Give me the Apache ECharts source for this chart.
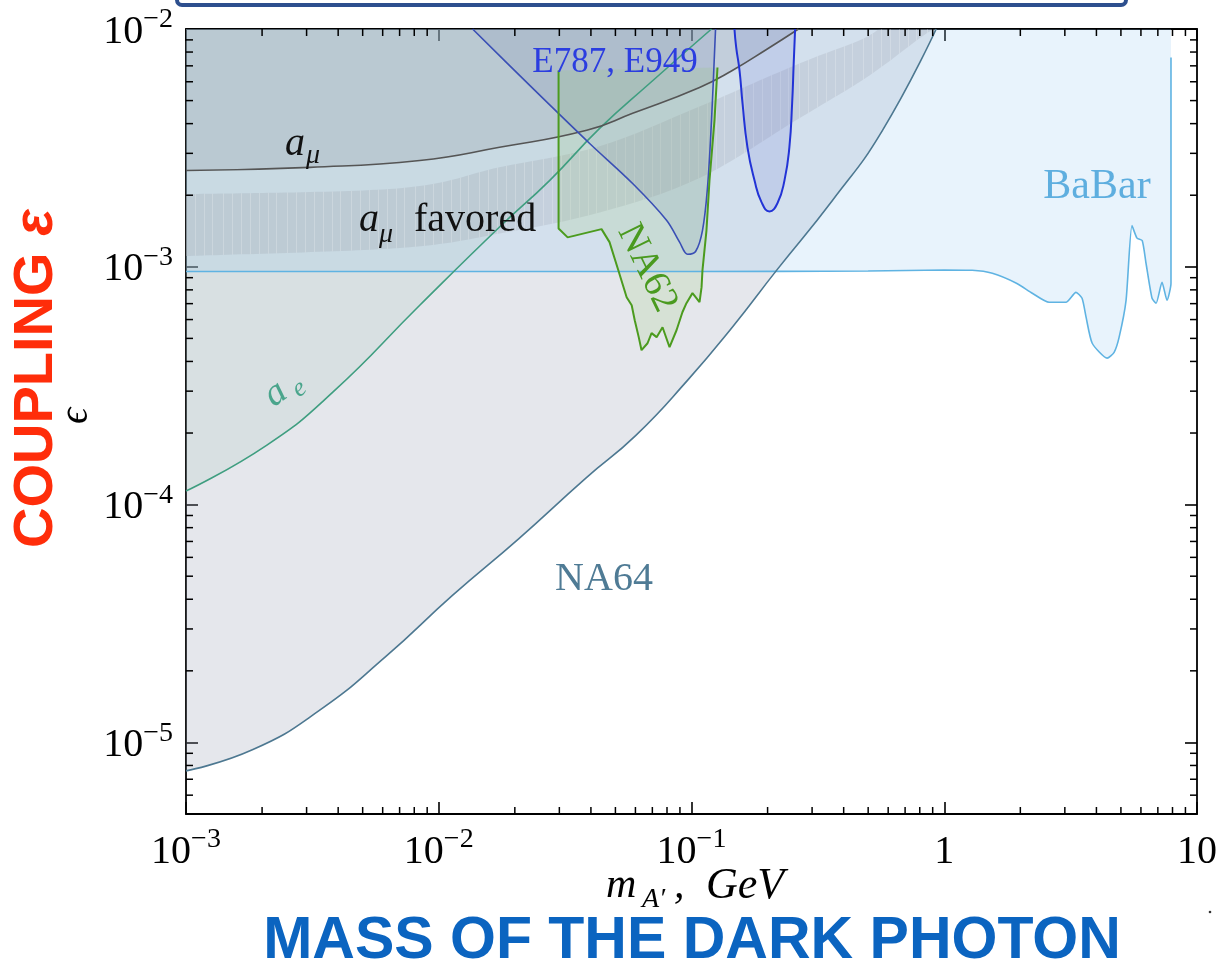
<!DOCTYPE html>
<html>
<head>
<meta charset="utf-8">
<title>Dark photon: coupling vs mass</title>
<script src="https://cdn.jsdelivr.net/npm/echarts@6/dist/echarts.min.js"></script>
<style>
  html, body { margin: 0; padding: 0; background: #ffffff; }
  #chart { width: 1220px; height: 972px; }
</style>
</head>
<body>
<div id="chart"></div>
<script>
// Axis ranges: dark photon mass m_A' (GeV) and kinetic mixing coupling epsilon
const X_MIN = 1e-3, X_MAX = 10;
const Y_MIN = 5e-6, Y_MAX = 1e-2;

// Log-axis minor tick mantissas and the decades they repeat in
const minorMantissas = [2, 3, 4, 5, 6, 7, 8, 9];
const xDecades = [1e-3, 1e-2, 1e-1, 1];
const yDecades = [1e-6, 1e-5, 1e-4, 1e-3];

// NA64 exclusion boundary
const na64Mass = [1.0e-3, 1.84e-3, 3.36e-3, 6.18e-3, 1.13e-2, 2.07e-2, 3.81e-2, 6.01e-2, 9.64e-2, 0.145, 0.217, 0.361, 0.569, 0.929];
const na64Eps  = [7.59e-6, 9.33e-6, 1.36e-5, 2.30e-5, 4.14e-5, 7.18e-5, 1.29e-4, 1.95e-4, 3.33e-4, 5.57e-4, 9.66e-4, 1.90e-3, 3.74e-3, 1.0e-2];

// BaBar exclusion boundary
const babarMass = [0.001, 0.01, 0.1, 0.5, 1.0, 1.29, 1.55, 1.93, 2.23, 2.60, 3.03, 3.32, 3.51, 3.64, 3.85, 4.41, 4.70, 4.92, 5.24, 5.53, 5.79, 6.07, 6.29, 6.64, 6.89, 7.27, 7.61, 7.89, 7.89];
const babarEps  = [9.55e-4, 9.55e-4, 9.55e-4, 9.6e-4, 9.7e-4, 9.67e-4, 9.39e-4, 8.53e-4, 7.74e-4, 7.09e-4, 7.09e-4, 7.81e-4, 7.37e-4, 6.14e-4, 4.77e-4, 4.13e-4, 4.37e-4, 5.06e-4, 7.23e-4, 1.49e-3, 1.32e-3, 1.29e-3, 1.03e-3, 7.37e-4, 7.03e-4, 8.61e-4, 7.23e-4, 8.53e-4, 7.59e-3];

// Electron g-2 (a_e) bound
const aeMass = [1.0e-3, 2.09e-3, 3.81e-3, 8.41e-3, 1.74e-2, 2.75e-2, 4.33e-2, 6.82e-2, 0.120];
const aeEps  = [1.14e-4, 1.78e-4, 2.97e-4, 6.89e-4, 1.47e-3, 2.31e-3, 3.82e-3, 5.90e-3, 1.0e-2];

// Muon g-2 (a_mu) bound
const amuMass = [1.0e-3, 3.09e-3, 8.41e-3, 1.74e-2, 3.85e-2, 5.85e-2, 0.1076, 0.145, 0.198, 0.265];
const amuEps  = [2.54e-3, 2.62e-3, 2.80e-3, 3.18e-3, 3.75e-3, 4.42e-3, 5.68e-3, 6.69e-3, 8.2e-3, 1.0e-2];

// a_mu favored band: upper and lower edges
const favUpperMass = [1.0e-3, 7.02e-3, 1.74e-2, 4.33e-2, 0.1076, 0.267, 0.461, 0.553];
const favUpperEps  = [2.02e-3, 2.14e-3, 2.62e-3, 3.21e-3, 4.72e-3, 7.16e-3, 8.95e-3, 1.0e-2];
const favLowerMass = [1.0e-3, 7.02e-3, 1.74e-2, 4.33e-2, 0.1076, 0.267, 0.506, 0.796, 0.912];
const favLowerEps  = [1.11e-3, 1.20e-3, 1.38e-3, 1.69e-3, 2.36e-3, 4.21e-3, 6.38e-3, 9.12e-3, 1.0e-2];

// E787 / E949 (K -> pi A') exclusion, broad region
const e787Mass = [0.01361, 0.02291, 0.03954, 0.05849, 0.07966, 0.0897, 0.0965, 0.1038, 0.1105, 0.1157, 0.1200, 0.1233, 0.1245];
const e787Eps  = [1.0e-2, 5.79e-3, 3.30e-3, 2.24e-3, 1.57e-3, 1.27e-3, 1.13e-3, 1.16e-3, 1.42e-3, 2.16e-3, 4.13e-3, 7.89e-3, 1.0e-2];

// E949 narrow region above the pion mass
const e949Mass = [0.1479, 0.1502, 0.1549, 0.1592, 0.1665, 0.1775, 0.1892, 0.2034, 0.2188, 0.2333, 0.2439, 0.2501, 0.2537, 0.2570];
const e949Eps  = [1.0e-2, 8.39e-3, 6.69e-3, 4.86e-3, 3.18e-3, 2.31e-3, 1.87e-3, 1.71e-3, 1.85e-3, 2.31e-3, 3.18e-3, 4.86e-3, 7.16e-3, 1.0e-2];

// NA62 projected sensitivity contour
const na62Mass = [0.02979, 0.02979, 0.03236, 0.04406, 0.04739, 0.05105, 0.05538, 0.05799, 0.05962, 0.06186, 0.06343, 0.06700, 0.06950, 0.07278, 0.07681, 0.08187, 0.08724, 0.09205, 0.09550, 0.1009, 0.1076, 0.1096, 0.1105, 0.1146, 0.1178, 0.1233, 0.1267];
const na62Eps  = [6.69e-3, 1.45e-3, 1.33e-3, 1.44e-3, 1.27e-3, 9.86e-4, 7.45e-4, 6.89e-4, 5.96e-4, 5.05e-4, 4.46e-4, 4.77e-4, 5.26e-4, 5.06e-4, 5.57e-4, 4.59e-4, 5.41e-4, 6.44e-4, 7.03e-4, 7.75e-4, 7.10e-4, 8.21e-4, 9.66e-4, 1.42e-3, 2.31e-3, 4.13e-3, 6.89e-3];

// ---------------------------------------------------------------------------
const SERIF = '"Liberation Serif", "DejaVu Serif", serif';
const SANS = '"Liberation Sans", Arial, sans-serif';
const pairs = (xs, ys) => xs.map((x, i) => [x, ys[i]]);

// Tick labels as powers of ten with a raised exponent
function powerLabel(v) {
  const e = Math.log10(v), k = Math.round(e);
  if (Math.abs(e - k) > 1e-6) return '';
  if (k === 0) return '{b|1}';
  if (k === 1) return '{b|10}';
  return '{b|10}{s|' + (k < 0 ? '\u2212' + (-k) : String(k)) + '}';
}
const tickRich = {
  b: { fontFamily: SERIF, fontSize: 40, lineHeight: 46, color: '#000', verticalAlign: 'bottom' },
  s: { fontFamily: SERIF, fontSize: 28, lineHeight: 28, color: '#000', verticalAlign: 'top' }
};

function axisBase(extra) {
  return Object.assign({
    type: 'log', logBase: 10,
    axisLine: { show: true, onZero: false, lineStyle: { color: '#000', width: 1.8 } },
    axisTick: { show: true, inside: true, length: 12, lineStyle: { color: '#000', width: 1.6 } },
    minorTick: { show: false },
    splitLine: { show: false },
    minorSplitLine: { show: false }
  }, extra);
}

// Filled region above a boundary curve (fill reaches the top of the plot)
function regionFill(name, xs, ys, color, smooth) {
  return {
    type: 'line', name: name + ' region', data: pairs(xs, ys), symbol: 'none', silent: true,
    smooth: smooth, clip: true, z: 2,
    lineStyle: { width: 0, opacity: 0 },
    areaStyle: { color: color, origin: 'end', opacity: 1 }
  };
}
function boundaryLine(name, xs, ys, color, width, smooth) {
  return {
    type: 'line', name: name, data: pairs(xs, ys), symbol: 'none', silent: true,
    smooth: smooth, clip: true, z: 4,
    lineStyle: { color: color, width: width }
  };
}

// Catmull-Rom path through pixel points
function splineCmds(pts) {
  let d = '';
  for (let i = 0; i < pts.length - 1; i++) {
    const p0 = pts[i - 1] || pts[i], p1 = pts[i], p2 = pts[i + 1], p3 = pts[i + 2] || p2;
    const c1 = [p1[0] + (p2[0] - p0[0]) / 6, p1[1] + (p2[1] - p0[1]) / 6];
    const c2 = [p2[0] - (p3[0] - p1[0]) / 6, p2[1] - (p3[1] - p1[1]) / 6];
    d += ' C' + c1[0] + ',' + c1[1] + ' ' + c2[0] + ',' + c2[1] + ' ' + p2[0] + ',' + p2[1];
  }
  return d;
}

// Faint vertical hatching used inside the favored band
const stripeCanvas = document.createElement('canvas');
stripeCanvas.width = 64; stripeCanvas.height = 4;
(function () {
  const g = stripeCanvas.getContext('2d');
  g.fillStyle = 'rgba(255,255,255,0.22)';
  [3, 12, 20, 31, 40, 49, 58].forEach(x => g.fillRect(x, 0, 1, 4));
})();

const bandSeries = {
  type: 'custom', name: 'a_mu favored', silent: true, clip: true, z: 2,
  data: [[favUpperMass[0], favUpperEps[0]]],
  renderItem: function (params, api) {
    const up = favUpperMass.map((m, i) => api.coord([m, favUpperEps[i]]));
    const lo = favLowerMass.map((m, i) => api.coord([m, favLowerEps[i]])).reverse();
    const d = 'M' + up[0][0] + ',' + up[0][1] + splineCmds(up) +
              ' L' + lo[0][0] + ',' + lo[0][1] + splineCmds(lo) + ' Z';
    return {
      type: 'group', children: [
        { type: 'path', shape: { pathData: d }, style: { fill: 'rgba(130,130,140,0.17)', stroke: null } },
        { type: 'path', shape: { pathData: d }, style: { fill: { image: stripeCanvas, repeat: 'repeat' }, stroke: null } }
      ]
    };
  }
};

const na62FillSeries = {
  type: 'custom', name: 'NA62 region', silent: true, clip: true, z: 3,
  data: [[na62Mass[0], na62Eps[0]]],
  renderItem: function (params, api) {
    const pts = na62Mass.map((m, i) => api.coord([m, na62Eps[i]]));
    return { type: 'polygon', shape: { points: pts }, style: { fill: 'rgba(150,200,110,0.18)', stroke: null } };
  }
};

// Minor ticks on all four sides of the frame
const MINOR_LEN = 7;
const xMinorTicks = [], yMinorTicks = [];
xDecades.forEach(d => minorMantissas.forEach(k => { const v = k * d; if (v > X_MIN && v < X_MAX) xMinorTicks.push([v, Y_MIN]); }));
yDecades.forEach(d => minorMantissas.forEach(k => { const v = k * d; if (v > Y_MIN && v < Y_MAX) yMinorTicks.push([X_MIN, v]); }));
const tickStyle = { stroke: '#000', lineWidth: 1.5 };

const xMinorSeries = {
  type: 'custom', name: 'x minor ticks', silent: true, z: 6, data: xMinorTicks,
  renderItem: function (params, api) {
    const v = api.value(0);
    const b = api.coord([v, Y_MIN]), t = api.coord([v, Y_MAX]);
    return { type: 'group', children: [
      { type: 'line', shape: { x1: b[0], y1: b[1], x2: b[0], y2: b[1] - MINOR_LEN }, style: tickStyle },
      { type: 'line', shape: { x1: t[0], y1: t[1], x2: t[0], y2: t[1] + MINOR_LEN }, style: tickStyle }
    ] };
  }
};
const yMinorSeries = {
  type: 'custom', name: 'y minor ticks', silent: true, z: 6, data: yMinorTicks,
  renderItem: function (params, api) {
    const v = api.value(1);
    const l = api.coord([X_MIN, v]), r = api.coord([X_MAX, v]);
    return { type: 'group', children: [
      { type: 'line', shape: { x1: l[0], y1: l[1], x2: l[0] + MINOR_LEN, y2: l[1] }, style: tickStyle },
      { type: 'line', shape: { x1: r[0], y1: r[1], x2: r[0] - MINOR_LEN, y2: r[1] }, style: tickStyle }
    ] };
  }
};

// Text helpers for the annotations (drawn above every series)
function txt(text, x, y, font, fill, align) {
  return { type: 'text', x: x, y: y, z: 100,
    style: { text: text, font: font, fill: fill, align: align || 'left', verticalAlign: 'middle' } };
}
function grp(x, y, rotation, children) {
  return { type: 'group', x: x, y: y, rotation: rotation, z: 100, children: children };
}

const chart = echarts.init(document.getElementById('chart'), null, { renderer: 'canvas' });
chart.setOption({
  animation: false,
  backgroundColor: '#ffffff',
  grid: { left: 186, top: 29, width: 1011, height: 785, containLabel: false, outerBoundsMode: 'none' },
  xAxis: [
    axisBase({ position: 'bottom', min: X_MIN, max: X_MAX,
      axisLabel: { show: true, margin: 12, formatter: powerLabel, rich: tickRich, color: '#000', hideOverlap: false, showMinLabel: true, showMaxLabel: true } }),
    axisBase({ position: 'top', min: X_MIN, max: X_MAX, axisLabel: { show: false } })
  ],
  yAxis: [
    axisBase({ position: 'left', min: Y_MIN, max: Y_MAX,
      axisLabel: { show: true, margin: 13, formatter: powerLabel, rich: tickRich, color: '#000', hideOverlap: false, showMinLabel: true, showMaxLabel: true } }),
    axisBase({ position: 'right', min: Y_MIN, max: Y_MAX, axisLabel: { show: false } })
  ],
  series: [
    regionFill('NA64', na64Mass, na64Eps, 'rgba(150,160,180,0.25)', 0.5),
    regionFill('BaBar', babarMass, babarEps, 'rgba(150,200,240,0.22)', 0.2),
    regionFill('a_e', aeMass, aeEps, 'rgba(150,185,175,0.16)', 0.5),
    regionFill('a_mu', amuMass, amuEps, 'rgba(110,120,130,0.17)', 0.5),
    bandSeries,
    regionFill('E787, E949', e787Mass, e787Eps, 'rgba(90,110,170,0.13)', 0.35),
    regionFill('E949', e949Mass, e949Eps, 'rgba(100,110,210,0.16)', 0.5),
    na62FillSeries,
    boundaryLine('BaBar', babarMass, babarEps, '#5fb3e2', 1.6, 0.2),
    boundaryLine('NA64', na64Mass, na64Eps, '#4d7891', 1.6, 0.5),
    boundaryLine('a_e', aeMass, aeEps, '#3f9e80', 1.6, 0.5),
    boundaryLine('a_mu', amuMass, amuEps, '#555555', 1.6, 0.5),
    boundaryLine('E787, E949', e787Mass, e787Eps, '#3a4fb5', 1.6, 0.35),
    boundaryLine('E949', e949Mass, e949Eps, '#2233d6', 2, 0.5),
    boundaryLine('NA62', na62Mass, na62Eps, '#4b9b1e', 2, false),
    xMinorSeries,
    yMinorSeries
  ],
  graphic: [
    // frame of the heading panel above the plot
    { type: 'rect', z: 100, shape: { x: 177, y: -30, width: 949, height: 35, r: 5 },
      style: { fill: '#ffffff', stroke: '#2d4f8e', lineWidth: 4 } },

    // outer axis captions
    grp(37, 548, Math.PI / 2, [
      txt('COUPLING', 0, 0, 'bold 56px ' + SANS, '#ff2d0a'),
      txt('\u03b5', 312, 0, 'italic bold 56px ' + SANS, '#ff2d0a')
    ]),
    txt('MASS OF THE DARK PHOTON', 692, 942, 'bold 59px ' + SANS, '#0b64c0', 'center'),
    { type: 'circle', z: 100, shape: { cx: 1210, cy: 912, r: 1.3 }, style: { fill: '#333' } },

    // axis titles
    grp(76, 416, Math.PI / 2, [ txt('\u03f5', 0, 0, 'italic 40px ' + SERIF, '#000', 'center') ]),
    grp(606, 886, 0, [
      txt('m', 0, 0, 'italic 42px ' + SERIF, '#000'),
      txt('A\u2032', 36, 14, 'italic 28px ' + SERIF, '#000'),
      txt(',', 68, 0, 'italic 42px ' + SERIF, '#000'),
      txt('GeV', 100, 0, 'italic 44px ' + SERIF, '#000')
    ]),

    // curve annotations
    grp(285, 144, 0, [
      txt('a', 0, 0, 'italic 40px ' + SERIF, '#111'),
      txt('\u03bc', 21, 12, 'italic 28px ' + SERIF, '#111')
    ]),
    grp(359, 220, 0, [
      txt('a', 0, 0, 'italic 40px ' + SERIF, '#111'),
      txt('\u03bc', 20, 15, 'italic 28px ' + SERIF, '#111'),
      txt('favored', 55, 0, '40px ' + SERIF, '#111')
    ]),
    grp(278, 397, 36 * Math.PI / 180, [
      txt('a', 0, -4, 'italic 38px ' + SERIF, '#4aa58c', 'center'),
      txt('e', 22, 6, 'italic 26px ' + SERIF, '#4aa58c', 'center')
    ]),
    txt('E787, E949', 615, 63, '35px ' + SERIF, '#2b3de0', 'center'),
    grp(647, 268, -64 * Math.PI / 180, [ txt('NA62', 0, 0, '38px ' + SERIF, '#4a9a1f', 'center') ]),
    txt('NA64', 604, 579, '40px ' + SERIF, '#4f7b95', 'center'),
    txt('BaBar', 1097, 187, '42px ' + SERIF, '#5eaedf', 'center')
  ]
});
</script>
</body>
</html>
